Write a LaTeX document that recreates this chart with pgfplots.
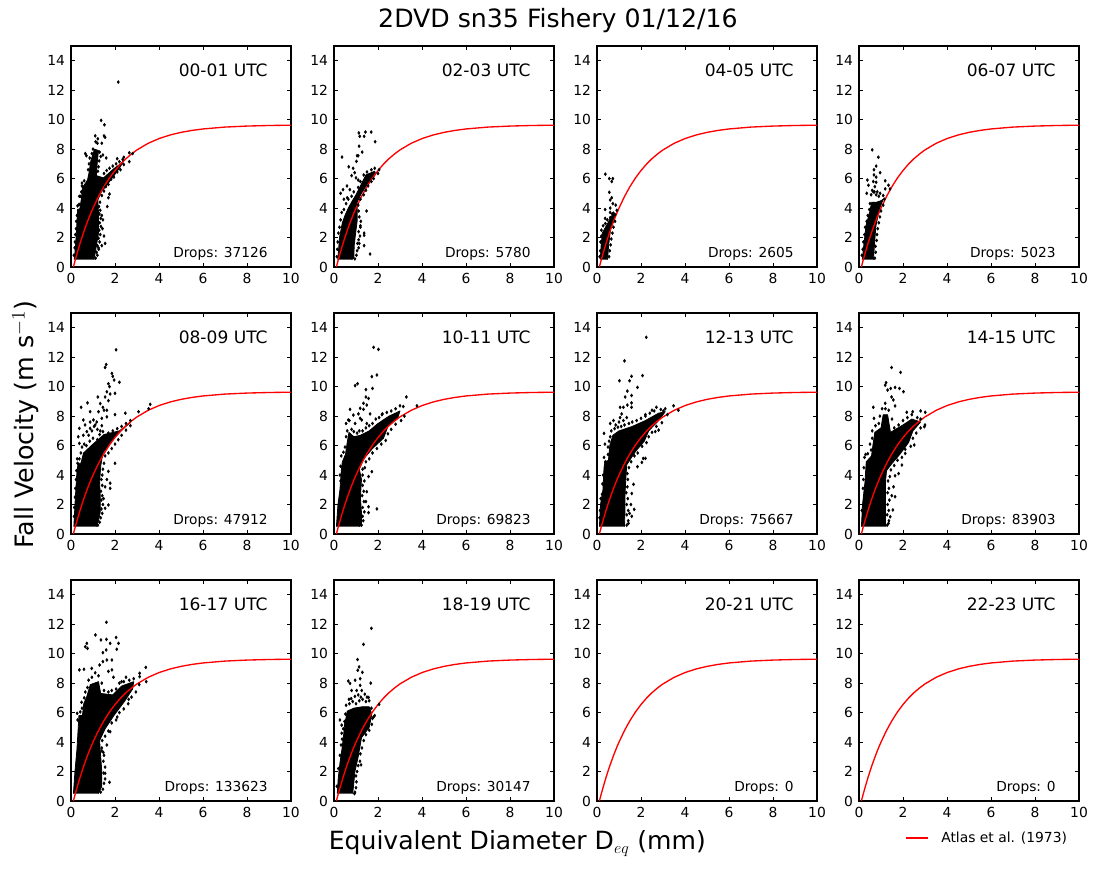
\documentclass[border=0pt]{standalone}
\usepackage{fontspec}
\setmainfont{DejaVu Sans}
\usepackage{pgfplots}
\usepackage{pgfplotstable}
\pgfplotsset{compat=1.18}

\pgfplotstableread{
D v
0.11 0.008
0.2 0.515
0.3 1.04
0.4 1.548
0.5 2.02
0.6 2.464
0.7 2.88
0.8 3.277
0.9 3.65
1.0 3.997
1.25 4.785
1.5 5.462
1.75 6.046
2 6.548
2.25 6.98
2.5 7.352
2.75 7.67
3 7.947
3.5 8.389
4 8.716
4.5 8.958
5 9.137
5.5 9.27
6 9.369
7 9.496
8 9.565
9 9.604
10 9.624
}\atlas

\pgfplotsset{
  panel/.style={
    scale only axis, width=165pt, height=165.75pt,
    anchor=south west,
    xmin=0, xmax=10, ymin=0, ymax=15,
    xtick={0,2,4,6,8,10},
    ytick={0,2,4,6,8,10,12,14},
    tick align=inside,
    major tick length=3pt,
    tick style={black, line width=0.45pt},
    axis line style={line width=0.9pt},
    ticklabel style={font=\fontsize{10.4}{12}\selectfont},
    /pgf/number format/assume math mode=true,
    xticklabel style={yshift=-1pt},
    yticklabel style={xshift=-1pt},
  },
  blob/.style={fill=black, draw=black, line width=0.6pt, line join=round, forget plot},
  outl/.style={only marks, mark=diamond*, mark size=1.1pt, black, forget plot},
  rain/.style={red, line width=1pt, no marks},
}
\newcommand{\hour}[1]{\node[anchor=base east, inner sep=0pt, font=\fontsize{12.8}{14}\selectfont] at (rel axis cs:0.895,0.86) {#1};}
\newcommand{\drops}[1]{\node[anchor=base east, inner sep=0pt, font=\fontsize{10.3}{12}\selectfont] at (rel axis cs:0.895,0.045) {Drops: #1};}

\begin{document}
\begin{tikzpicture}
\path[use as bounding box] (0,0) rectangle (822.75pt,652.5pt);

\node[font=\fontsize{18.9}{20}\selectfont] at (418.5pt,637pt) {2DVD sn35 Fishery 01/12/16};
\node[font=\fontsize{19}{24}\selectfont, rotate=90] at (19pt,334pt) {Fall Velocity (m s$^{-1}$)};
\node[font=\fontsize{18.8}{24}\selectfont] at (388pt,20pt) {Equivalent Diameter D$_{eq}$ (mm)};

% legend key
\draw[red, line width=1pt] (679.5pt,24pt) -- (696pt,24pt);
\node[anchor=west, inner sep=0pt, font=\fontsize{10.4}{12}\selectfont] at (705.75pt,24pt) {Atlas et al. (1973)};

% 00-01
\begin{axis}[panel, at={(53.25pt,452.25pt)}]
\addplot[blob] coordinates {(0.15,0.5)(0.18,1)(0.23,2)(0.27,3)(0.3,3.9)(0.4,3.95)(0.47,4.6)(0.52,5.4)(0.64,5.65)(0.75,5.9)(0.82,6.4)(0.9,7.2)(1.07,8.0)(1.25,7.9)(1.2,7.2)(1.15,6.2)(1.48,6.05)(1.93,6.65)(2.2,6.95)(2.4,7.2)(2.2,6.7)(1.75,5.8)(1.38,5.1)(1.22,4.55)(1.25,3.65)(1.25,2.3)(1.1,0.95)(1.05,0.5)};
\addplot[outl] coordinates {(1.12,0.6)(1.2,0.8)(1.16,1.0)(1.26,1.2)(1.2,1.45)(1.3,1.7)(1.25,1.95)(1.33,2.2)(1.28,2.5)(1.36,2.75)(1.3,3.0)(1.35,3.3)(1.29,3.6)(1.33,3.85)(1.27,4.1)(1.32,4.4)(1.4,4.85)(1.5,5.15)(1.58,5.45)(1.7,5.6)(1.82,5.95)(1.95,6.1)(2.1,6.45)(2.25,6.6)(2.4,6.95)(1.5,6.35)(1.62,6.55)(1.75,6.7)(1.9,6.85)(2.05,7.0)(2.2,7.15)(2.35,7.3)(1.2,8.4)(1.12,8.5)(1.0,8.0)(0.95,7.7)(0.85,7.4)(0.82,7.0)(0.78,6.6)(1.3,7.8)(1.35,7.5)(1.28,7.2)(1.25,6.8)(1.22,6.5)(0.13,0.8)(0.17,1.3)(0.18,1.7)(0.2,2.2)(0.23,2.6)(0.24,3.1)(0.27,3.5)(0.3,4.15)(0.37,4.25)(0.42,4.8)(0.47,5.1)(0.5,5.7)(0.6,5.85)};
\addplot[outl] coordinates {(2.15,12.55)(1.37,9.95)(1.52,9.65)(1.1,8.9)(1.22,8.7)(1.5,8.9)(1.55,8.8)(1.4,8.4)(0.65,7.7)(0.7,7.55)(1.6,7.4)(1.45,7.6)(2.1,7.35)(2.4,7.45)(2.65,7.75)(2.8,7.7)(2.65,7.15)(0.5,5.5)(0.38,4.8)(1.7,4.7)(1.65,4.1)(1.75,4.95)(1.4,3.5)(1.45,3.2)(1.43,2.6)(1.5,2.1)(1.55,1.6)(1.4,1.45)(1.25,1.3)};
\addplot[rain] table {\atlas};
\hour{00-01 UTC}\drops{37126}
\end{axis}

% 02-03
\begin{axis}[panel, at={(250.5pt,452.25pt)}]
\addplot[blob] coordinates {(0.17,0.5)(0.2,1)(0.25,2)(0.38,3)(0.5,3.5)(0.65,4.0)(0.8,4.4)(1.0,4.9)(1.3,5.8)(1.45,6.25)(1.85,6.5)(1.9,6.3)(1.5,5.6)(1.25,5.0)(1.05,4.4)(1.05,3.1)(1.0,2.5)(0.92,1.5)(0.9,0.6)(0.8,0.5)};
\addplot[outl] coordinates {(0.95,0.55)(1.02,0.8)(1.05,1.1)(1.12,1.3)(1.07,1.6)(1.12,1.85)(1.18,2.1)(1.12,2.4)(1.2,2.7)(1.22,3.1)(1.15,3.4)(1.12,3.8)(1.1,4.2)(1.2,4.6)(1.35,4.9)(1.45,5.2)(1.55,5.5)(1.7,5.8)(1.8,6.0)(2.0,6.35)(0.13,0.7)(0.15,1.2)(0.17,1.7)(0.2,2.3)(0.25,2.7)(0.3,3.2)(0.35,3.7)(0.45,3.9)(0.55,4.3)(0.65,4.6)(0.8,4.8)(0.9,5.1)(1.1,5.4)(1.2,5.8)(1.35,6.25)(1.5,6.45)(1.7,6.6)(1.85,6.7)};
\addplot[outl] coordinates {(0.365,7.46)(0.67,6.8)(0.87,6.7)(0.94,6.4)(1.1,5.9)(0.59,5.5)(0.41,5.25)(0.3,5.0)(0.72,5.25)(1.13,9.1)(1.17,8.87)(1.37,8.87)(1.43,9.16)(1.69,9.16)(1.87,8.5)(1.14,8.2)(1.28,7.8)(1.05,7.55)(1.1,7.55)(1.02,7.17)(1.48,3.8)(1.37,2.3)(1.37,2.15)(1.37,1.45)(1.64,0.88)(0.8,6.2)(1.0,6.05)(0.45,4.6)(0.6,4.7)(2.05,6.6)(1.2,2.8)(1.15,1.6)};
\addplot[rain] table {\atlas};
\hour{02-03 UTC}\drops{5780}
\end{axis}

% 04-05
\begin{axis}[panel, at={(447.75pt,452.25pt)}]
\addplot[blob] coordinates {(0.15,0.5)(0.19,1.5)(0.24,2.3)(0.35,2.6)(0.5,3.0)(0.75,3.7)(0.8,3.4)(0.62,2.6)(0.53,1.5)(0.48,0.5)};
\addplot[outl] coordinates {(0.12,0.7)(0.15,1.1)(0.16,1.7)(0.2,2.1)(0.2,2.5)(0.28,2.8)(0.38,2.95)(0.47,3.2)(0.6,3.35)(0.7,3.6)(0.55,0.7)(0.58,1.1)(0.62,1.5)(0.65,1.9)(0.7,2.3)(0.75,2.7)(0.82,3.1)};
\addplot[outl] coordinates {(0.38,6.3)(0.56,6.0)(0.72,6.0)(0.67,5.8)(0.56,5.07)(0.67,4.7)(0.6,4.55)(0.72,4.3)(0.37,3.9)(0.6,4.0)(0.6,3.7)(0.75,3.65)(0.37,3.3)(0.82,3.55)(0.9,3.85)(0.85,4.2)};
\addplot[rain] table {\atlas};
\hour{04-05 UTC}\drops{2605}
\end{axis}

% 06-07
\begin{axis}[panel, at={(644.25pt,452.25pt)}]
\addplot[blob] coordinates {(0.15,0.5)(0.22,1.5)(0.32,2.8)(0.48,3.7)(0.58,4.4)(0.8,4.4)(1.0,4.5)(1.1,4.6)(0.92,3.9)(0.77,2.8)(0.7,1.5)(0.66,0.5)};
\addplot[outl] coordinates {(0.72,0.6)(0.76,1.0)(0.75,1.4)(0.8,1.8)(0.82,2.2)(0.85,2.6)(0.9,3.0)(0.95,3.4)(1.0,3.8)(1.1,4.2)(1.15,4.6)(0.13,0.8)(0.17,1.2)(0.2,1.7)(0.25,2.2)(0.28,2.7)(0.35,3.1)(0.4,3.5)(0.47,3.9)(0.5,4.3)(0.55,4.9)(0.6,5.2)(0.7,5.1)(0.78,4.9)(0.9,4.8)(1.1,4.85)};
\addplot[outl] coordinates {(0.6,7.95)(0.88,7.45)(0.78,6.85)(0.68,6.6)(0.96,6.4)(0.68,6.25)(0.78,6.1)(0.38,5.9)(0.65,5.8)(0.43,5.55)(0.78,5.75)(1.19,5.85)(1.34,5.55)(0.35,5.0)(1.19,5.3)(0.72,5.45)(0.65,5.1)(0.83,5.1)(0.96,5.0)(1.41,5.3)};
\addplot[rain] table {\atlas};
\hour{06-07 UTC}\drops{5023}
\end{axis}

% 08-09
\begin{axis}[panel, at={(53.25pt,252pt)}]
\addplot[blob] coordinates {(0.13,0.5)(0.18,2)(0.26,4)(0.32,4.8)(0.45,4.8)(0.57,5.5)(1.0,6.1)(1.5,6.75)(2.2,7.0)(2.7,7.55)(2.45,7.25)(1.95,6.5)(1.45,5.5)(1.35,4.6)(1.3,3.5)(1.33,2.5)(1.33,1.5)(1.25,0.9)(1.15,0.5)};
\addplot[outl] coordinates {(1.22,0.6)(1.3,0.8)(1.35,1.1)(1.42,1.4)(1.38,1.7)(1.45,2.0)(1.38,2.3)(1.42,2.6)(1.36,2.9)(1.42,3.3)(1.38,3.7)(1.42,4.0)(1.45,4.4)(1.5,4.8)(1.55,5.3)(1.7,5.5)(1.85,5.8)(2.0,6.1)(2.15,6.4)(2.3,6.7)(2.5,7.05)(2.7,7.35)(0.25,4.3)(0.3,4.8)(0.28,5.1)(0.38,5.1)(0.45,5.5)(0.5,5.9)(0.6,6.1)(0.7,6.0)(0.85,6.3)(1.0,6.5)(1.2,6.4)(1.3,6.75)(1.45,6.95)(1.7,6.85)(1.9,7.0)(2.1,7.15)(2.3,7.3)(2.5,7.5)(2.7,7.7)(0.14,1.2)(0.15,1.8)(0.18,2.5)(0.2,3.1)(0.23,3.7)};
\addplot[outl] coordinates {(2.05,12.5)(1.6,11.5)(1.55,11.3)(1.86,10.9)(1.9,10.7)(1.96,10.45)(2.2,10.3)(1.7,10.2)(1.75,10.0)(1.63,9.65)(2.0,9.55)(1.78,9.5)(1.22,9.3)(1.55,9.3)(1.7,9.05)(0.75,8.9)(1.33,8.85)(1.45,8.6)(0.46,8.6)(3.6,8.8)(3.53,8.5)(3.07,8.3)(2.47,8.2)(1.25,8.3)(1.5,8.4)(1.63,8.4)(2.0,8.1)(0.87,8.3)(0.56,7.74)(0.87,7.6)(1.02,7.74)(1.17,7.6)(1.1,7.4)(1.4,7.85)(1.63,7.95)(1.4,7.35)(0.38,7.17)(0.64,7.4)(0.56,6.7)(0.38,6.15)(0.33,6.6)(0.72,6.95)(0.87,7.17)(1.33,7.0)(0.95,7.0)(1.05,7.3)(1.2,7.1)(0.8,6.7)(2.0,4.8)(1.7,4.25)(1.63,3.7)(1.78,3.45)(1.55,3.2)(1.78,3.1)(1.7,1.97)(1.48,2.4)(1.55,1.75)};
\addplot[rain] table {\atlas};
\hour{08-09 UTC}\drops{47912}
\end{axis}

% 10-11
\begin{axis}[panel, at={(250.5pt,252pt)}]
\addplot[blob] coordinates {(0.11,0.5)(0.18,2)(0.27,3)(0.33,4.3)(0.38,4.9)(0.52,5.4)(0.6,6.2)(0.68,6.9)(0.9,6.6)(1.2,6.7)(1.6,7.0)(2,7.5)(2.5,8.0)(3.0,8.35)(2.9,7.9)(2.45,7.3)(2.25,6.5)(1.75,5.8)(1.35,5.1)(1.15,4.4)(1.25,3.7)(1.2,2.5)(1.25,1.4)(1.25,0.6)(1.15,0.5)};
\addplot[outl] coordinates {(1.25,0.6)(1.33,0.9)(1.3,1.2)(1.38,1.5)(1.3,1.8)(1.36,2.2)(1.28,2.6)(1.35,2.9)(1.3,3.3)(1.38,3.6)(1.3,4.0)(1.3,4.4)(1.45,4.9)(1.6,5.1)(1.75,5.5)(1.95,5.8)(2.15,6.1)(2.35,6.35)(2.45,6.8)(2.6,7.1)(2.8,7.45)(3.05,7.7)(3.2,8.0)(0.55,6.6)(0.6,7.0)(0.55,7.5)(0.7,7.7)(0.8,7.1)(0.9,6.95)(1.05,6.85)(1.15,7.0)(1.3,7.0)(1.45,7.2)(1.6,7.35)(1.75,7.5)(1.9,7.8)(2.05,7.9)(2.2,8.15)(2.4,8.25)(2.6,8.35)(2.8,8.5)(3.0,8.7)(3.15,8.65)(0.3,3.6)(0.27,4.0)(0.3,4.6)(0.33,5.3)(0.43,5.55)(0.5,5.9)};
\addplot[outl] coordinates {(1.8,12.67)(2.02,12.53)(1.72,10.68)(1.95,10.79)(1.07,10.2)(0.96,10.07)(1.45,9.8)(1.75,9.88)(1.45,9.3)(1.57,9.2)(1.34,8.87)(3.29,9.3)(3.77,8.7)(0.73,8.46)(1.19,8.53)(1.34,8.46)(1.11,8.15)(1.49,8.75)(1.64,8.15)(2.18,8.1)(0.88,8.07)(1.19,7.85)(1.26,7.74)(1.49,7.5)(0.96,7.5)(0.65,7.74)(1.95,1.7)(1.57,1.45)(1.57,1.85)(1.45,2.2)(1.49,2.87)(1.72,4.23)(1.57,3.9)(1.4,4.5)};
\addplot[rain] table {\atlas};
\hour{10-11 UTC}\drops{69823}
\end{axis}

% 12-13
\begin{axis}[panel, at={(447.75pt,252pt)}]
\addplot[blob] coordinates {(0.11,0.5)(0.16,2)(0.27,3)(0.32,4.5)(0.36,4.9)(0.52,5.0)(0.58,6)(0.72,6.7)(1.0,7.0)(1.6,7.3)(2.2,7.7)(2.8,8.2)(3.1,8.3)(2.8,7.7)(2.35,7.0)(2.15,6.3)(1.75,5.6)(1.35,4.7)(1.3,3.5)(1.27,2.5)(1.27,1.5)(1.25,0.5)};
\addplot[outl] coordinates {(1.35,0.6)(1.42,0.9)(1.35,1.3)(1.42,1.6)(1.35,2.0)(1.4,2.4)(1.33,2.8)(1.38,3.2)(1.4,3.7)(1.38,4.1)(1.45,4.5)(1.55,4.9)(1.7,5.3)(1.85,5.5)(2.05,5.95)(2.25,6.2)(2.35,6.6)(2.5,6.9)(2.7,7.3)(2.95,7.55)(3.2,8.1)(0.38,4.9)(0.32,5.2)(0.5,5.4)(0.5,5.9)(0.55,6.3)(0.6,6.6)(0.65,7.0)(0.8,7.15)(0.95,7.25)(1.1,7.3)(1.25,7.4)(1.45,7.5)(1.6,7.6)(1.8,7.7)(2.0,7.85)(2.2,8.0)(2.4,8.2)(2.6,8.35)(2.9,8.45)(3.1,8.5)(1.0,7.6)(1.2,7.7)(0.85,7.4)(0.12,1.1)(0.14,1.6)(0.17,2.4)(0.23,2.7)(0.25,3.4)(0.28,4.0)};
\addplot[outl] coordinates {(2.24,13.35)(1.25,11.75)(1.02,10.4)(1.48,10.4)(1.57,10.7)(2.07,10.75)(1.84,9.95)(1.38,9.7)(1.28,9.3)(1.57,9.4)(1.38,8.75)(1.57,8.9)(1.57,8.6)(1.2,8.6)(1.05,8.6)(1.12,8.15)(1.05,7.9)(1.35,7.9)(0.75,7.7)(0.6,7.5)(0.32,6.83)(0.36,6.1)(2.2,8.1)(2.5,8.4)(2.7,8.6)(3.02,8.35)(3.48,8.7)(3.7,8.4)(2.1,5.13)(2.2,5.13)(2.04,4.86)(1.84,4.57)(2.8,7.05)(2.65,6.95)(1.66,3.37)(1.54,2.0)(1.69,1.67)(1.58,1.2)(1.43,0.72)(1.48,1.4)(1.58,2.75)};
\addplot[rain] table {\atlas};
\hour{12-13 UTC}\drops{75667}
\end{axis}

% 14-15
\begin{axis}[panel, at={(644.25pt,252pt)}]
\addplot[blob] coordinates {(0.11,0.5)(0.16,2)(0.27,3.5)(0.33,4.9)(0.57,5.3)(0.63,6)(0.72,6.9)(1,7.2)(1.1,8.1)(1.3,8.1)(1.43,6.9)(2.0,7.4)(2.4,7.8)(2.8,7.6)(2.45,7)(2.25,6.2)(1.85,5.4)(1.45,4.7)(1.25,4.3)(1.2,3.5)(1.2,2.5)(1.2,1.5)(1.2,0.5)};
\addplot[outl] coordinates {(1.28,0.6)(1.36,0.9)(1.28,1.3)(1.35,1.6)(1.3,2.0)(1.38,2.3)(1.3,2.8)(1.36,3.1)(1.32,3.6)(1.4,3.9)(1.45,4.35)(1.6,4.65)(1.75,5.0)(1.95,5.2)(2.1,5.75)(2.35,5.95)(2.45,6.5)(2.6,6.85)(2.8,7.2)(3.0,7.4)(0.55,5.7)(0.5,6.1)(0.6,6.5)(0.6,7.0)(0.75,7.35)(0.9,7.5)(0.95,8.0)(1.05,8.5)(1.2,8.5)(1.35,8.4)(1.5,7.8)(1.6,7.2)(1.8,7.4)(2.0,7.7)(2.2,7.9)(2.4,8.1)(2.65,7.9)(2.8,7.8)(0.25,5.2)(0.3,5.4)(0.4,5.45)(0.22,4.5)(0.2,3.7)(0.18,3.1)(0.13,1.6)};
\addplot[outl] coordinates {(1.48,11.3)(1.89,10.97)(1.23,10.27)(1.19,10.1)(1.3,9.77)(1.44,9.88)(1.64,9.95)(1.84,9.88)(2.02,9.66)(1.48,9.3)(1.56,9.1)(1.19,8.87)(1.64,8.69)(0.65,8.6)(0.68,7.85)(2.44,8.3)(2.17,8.26)(2.8,8.35)(3.01,8.26)(2.97,7.28)(2.51,6.04)(2.1,5.47)(1.95,4.68)(1.8,4.1)(1.64,3.95)(1.57,3.2)(1.64,2.53)(1.49,2.6)(1.54,1.63)(1.42,1.17)(1.34,0.72)};
\addplot[rain] table {\atlas};
\hour{14-15 UTC}\drops{83903}
\end{axis}

% 16-17
\begin{axis}[panel, at={(53.25pt,51.75pt)}]
\addplot[blob] coordinates {(0.11,0.5)(0.18,2)(0.27,3.5)(0.33,5)(0.36,5.8)(0.52,5.8)(0.58,6.6)(0.72,7.1)(0.88,7.9)(1.25,8.1)(1.35,7.3)(1.9,7.2)(2.3,7.8)(2.85,8.1)(2.8,7.6)(2.45,6.8)(2.25,6.4)(1.95,5.8)(1.55,4.9)(1.3,4.1)(1.35,3)(1.4,2)(1.4,1)(1.25,0.5)};
\addplot[outl] coordinates {(1.35,0.6)(1.45,0.8)(1.5,1.2)(1.55,1.5)(1.48,1.9)(1.55,2.3)(1.47,2.7)(1.5,3.1)(1.4,3.6)(1.42,4.1)(1.55,4.4)(1.7,4.75)(1.85,5.3)(2.05,5.5)(2.2,6.0)(2.4,6.25)(2.6,6.6)(2.75,7.05)(2.95,7.4)(3.1,7.9)(0.3,5.5)(0.28,5.95)(0.42,6.05)(0.5,6.3)(0.48,6.7)(0.6,7.0)(0.65,7.4)(0.75,7.7)(0.8,8.2)(0.95,8.4)(1.1,8.7)(1.25,8.5)(1.4,8.0)(1.5,7.5)(1.7,7.4)(1.85,7.5)(2.05,7.6)(2.2,8.0)(2.4,8.1)(2.65,8.2)(2.85,8.3)};
\addplot[outl] coordinates {(1.61,12.13)(1.11,11.27)(2.05,11.1)(1.36,10.93)(1.61,10.97)(2.16,10.7)(1.78,10.7)(0.72,10.7)(0.65,10.47)(0.75,10.36)(2.08,10.3)(1.6,10.25)(1.45,10.07)(1.63,9.57)(1.86,9.57)(1.45,9.46)(1.3,9.23)(1.7,8.8)(1.86,8.9)(0.59,8.94)(0.38,8.9)(0.94,9.0)(3.4,9.07)(3.12,8.67)(3.12,8.44)(3.42,8.1)(2.5,8.4)(2.3,8.1)(1.93,8.4)(1.55,1.88)(1.75,1.27)(1.47,3.3)(1.4,3.4)(1.63,3.8)(1.78,4.7)(2.1,5.7)(2.62,6.9)};
\addplot[rain] table {\atlas};
\hour{16-17 UTC}\drops{133623}
\end{axis}

% 18-19
\begin{axis}[panel, at={(250.5pt,51.75pt)}]
\addplot[blob] coordinates {(0.15,0.5)(0.19,1.5)(0.28,2.7)(0.36,3.5)(0.44,4.5)(0.48,5.2)(0.54,5.6)(0.6,6.1)(0.9,6.3)(1.3,6.4)(1.6,6.4)(1.72,5.9)(1.6,5)(1.25,4.3)(1.1,3)(0.95,2)(0.9,1.2)(0.85,0.5)};
\addplot[outl] coordinates {(0.95,0.6)(1.0,0.9)(1.02,1.3)(1.0,1.7)(1.05,2.0)(1.1,2.4)(1.18,2.7)(1.2,3.2)(1.27,3.6)(1.35,4.1)(1.45,4.5)(1.6,4.8)(1.72,5.2)(1.75,5.6)(1.85,5.8)(0.13,1.0)(0.2,2.2)(0.27,3.1)(0.32,3.8)(0.37,4.2)(0.42,4.9)(0.48,5.4)(0.52,5.9)(0.55,6.5)(0.7,6.6)(0.85,6.75)(1.0,6.6)(1.15,6.8)(1.3,6.9)(1.45,6.75)(1.6,6.8)(1.7,6.3)(0.78,6.95)(0.95,7.1)(1.1,7.2)(1.22,7.05)(1.4,7.25)(1.5,7.05)};
\addplot[outl] coordinates {(1.7,11.72)(1.34,10.63)(1.07,9.6)(1.14,9.1)(1.08,8.87)(1.29,8.73)(1.19,8.3)(0.65,8.14)(0.73,7.98)(0.96,8.2)(1.67,8.0)(1.19,7.85)(0.8,7.5)(1.03,7.5)(1.26,7.5)(0.68,6.9)(2.05,6.56)(1.8,5.7)(0.27,5.5)(0.35,5.15)(0.35,4.6)(1.23,2.45)(0.93,0.5)(1.57,7.03)};
\addplot[rain] table {\atlas};
\hour{18-19 UTC}\drops{30147}
\end{axis}

% 20-21
\begin{axis}[panel, at={(447.75pt,51.75pt)}]
\addplot[rain] table {\atlas};
\hour{20-21 UTC}\drops{0}
\end{axis}

% 22-23
\begin{axis}[panel, at={(644.25pt,51.75pt)}]
\addplot[rain] table {\atlas};
\hour{22-23 UTC}\drops{0}
\end{axis}
\end{tikzpicture}
\end{document}
